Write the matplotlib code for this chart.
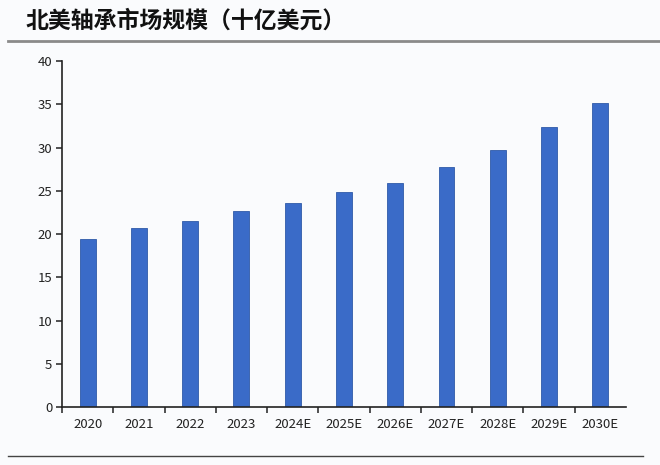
import matplotlib
matplotlib.use('Agg')
import matplotlib.pyplot as plt
from matplotlib.lines import Line2D
import numpy as np

plt.rcParams['font.family'] = ['Noto Sans CJK SC', 'DejaVu Sans']

years = ['2020', '2021', '2022', '2023', '2024E', '2025E',
         '2026E', '2027E', '2028E', '2029E', '2030E']
market_size = [19.4, 20.7, 21.5, 22.7, 23.6, 24.9, 25.9, 27.7, 29.7, 32.4, 35.2]
y_ticks = [0, 5, 10, 15, 20, 25, 30, 35, 40]

bg = '#fafbfd'
fig = plt.figure(figsize=(6.6, 4.65), dpi=100, facecolor=bg)
ax = fig.add_axes([0.0939, 0.1247, 0.8546, 0.7441], facecolor=bg)

x = np.arange(len(years))
ax.bar(x, market_size, width=0.31, color='#3a6bc8', edgecolor='#2f5aa8', linewidth=0.6)

ax.set_xlim(-0.5, len(years) - 0.5)
ax.set_ylim(0, 40)
ax.set_yticks(y_ticks)
ax.set_xticks(x)
ax.set_xticklabels(years)
ax.set_xticks(np.arange(-0.5, len(years) - 0.5, 1), minor=True)

for side in ['top', 'right']:
    ax.spines[side].set_visible(False)
for side in ['left', 'bottom']:
    ax.spines[side].set_linewidth(1.2)
    ax.spines[side].set_color('#222222')

ax.tick_params(axis='x', which='major', length=0, pad=8, labelsize=9.5, colors='#222222')
ax.tick_params(axis='x', which='minor', length=4, width=1.1, color='#222222', direction='out')
ax.tick_params(axis='y', length=4, width=1.1, pad=3, labelsize=9.5, colors='#222222', direction='out')

# title and separator lines
fig.text(0.038, 0.955, '北美轴承市场规模（十亿美元）', fontsize=16.5, fontweight='bold',
         va='center', ha='left', color='#111111')
fig.add_artist(Line2D([0.012, 1.0], [0.912, 0.912], color='#8a8a8a', linewidth=2,
                      transform=fig.transFigure))
fig.add_artist(Line2D([0.012, 0.974], [0.019, 0.019], color='#444444', linewidth=1,
                      transform=fig.transFigure))

fig.savefig('out.png', dpi=100, facecolor=bg)
